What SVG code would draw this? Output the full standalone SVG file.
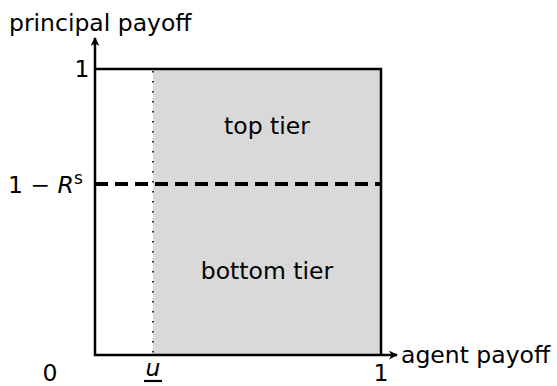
<svg xmlns="http://www.w3.org/2000/svg" width="557" height="386" viewBox="0 0 557 386">
<style>
text{font-family:"DejaVu Sans","Liberation Sans",sans-serif;font-size:23.5px;fill:#000}
.ax{stroke:#000;stroke-width:2;fill:none}
</style>
<defs>
<marker id="ah" viewBox="0 0 10 10" refX="9" refY="5" markerWidth="10" markerHeight="9" orient="auto" markerUnits="userSpaceOnUse">
<path d="M0,0 L10,5 L0,10 L3,5 Z" fill="#000"/>
</marker>
</defs>
<g id="region">
<rect x="153" y="69" width="228" height="286" fill="#d9d9d9"/>
</g>
<g id="connectors">
<line class="ax" x1="95" y1="356" x2="95" y2="38" marker-end="url(#ah)" style="stroke-width:2.5"/>
<line class="ax" x1="94" y1="355" x2="397" y2="355" marker-end="url(#ah)" style="stroke-width:2.5"/>
<polyline class="ax" points="95,69 381,69 381,355" style="stroke-width:2.5"/>
<line x1="153" y1="71" x2="153" y2="355" stroke="#000" stroke-width="1.6" stroke-dasharray="1.6,8.4"/>
<line x1="95" y1="184" x2="381" y2="184" stroke="#000" stroke-width="4" stroke-dasharray="13,7"/>
</g>
<g id="labels">
<text x="9" y="31">principal payoff</text>
<text x="401" y="363">agent payoff</text>
<text x="82" y="77" text-anchor="middle">1</text>
<text x="8" y="193">1 − <tspan font-style="italic">R</tspan><tspan font-size="17" dy="-9">s</tspan></text>
<text x="50" y="381" text-anchor="middle">0</text>
<text x="153" y="376" text-anchor="middle" font-style="italic">u</text>
<line x1="144" y1="381" x2="162" y2="381" stroke="#000" stroke-width="2.2"/>
<text x="381" y="381" text-anchor="middle">1</text>
<text x="267" y="134" text-anchor="middle">top tier</text>
<text x="267" y="279" text-anchor="middle">bottom tier</text>
</g>
</svg>
